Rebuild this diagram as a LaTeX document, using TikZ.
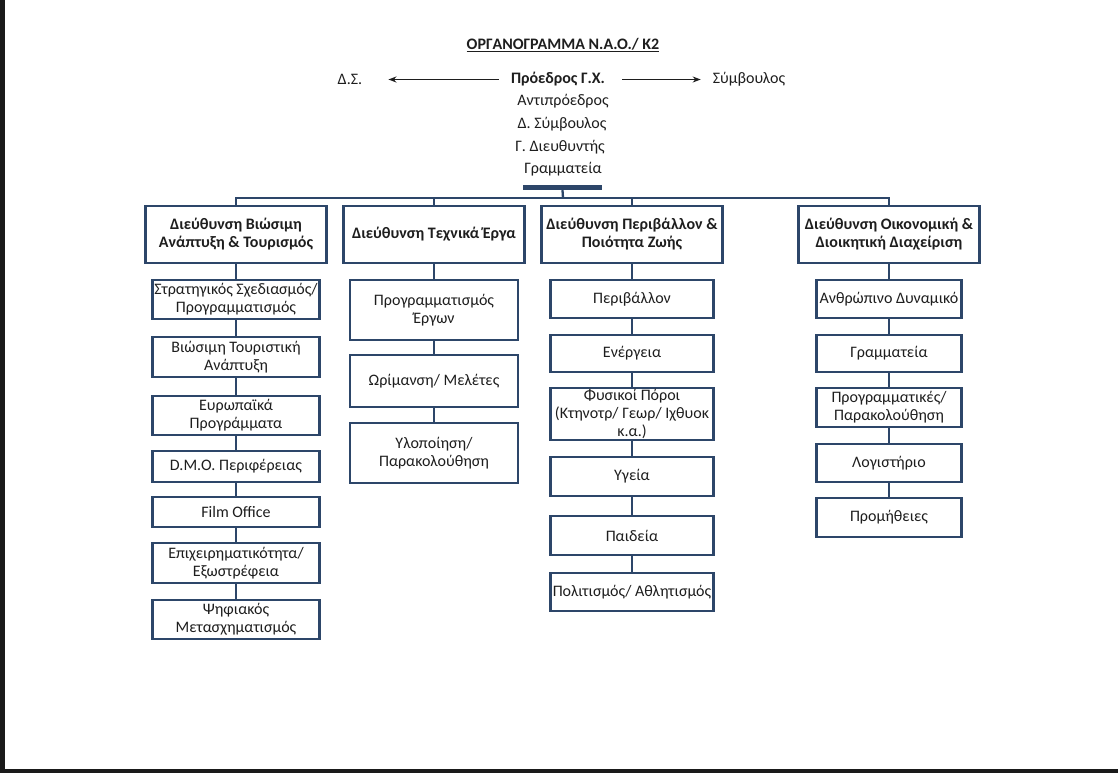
\documentclass[tikz,border=0pt]{standalone}
\usepackage{fontspec}
\setmainfont{Carlito}
\usetikzlibrary{arrows.meta}
\definecolor{navy}{HTML}{2D4669}
\definecolor{ink}{HTML}{1E1E1E}
\definecolor{frame}{HTML}{1A1A1A}
\begin{document}
\begin{tikzpicture}[x=1pt,y=-1pt,
  every node/.style={text=ink, font=\fontsize{16}{18}\selectfont},
  plain/.style={inner sep=0pt},
  box/.style={draw=navy, line width=2.3pt, fill=white, align=center, inner sep=0pt},
  head/.style={box, font=\bfseries\fontsize{16}{18}\selectfont, minimum width=181pt, minimum height=57pt},
  colA/.style={box, minimum width=167pt},
  colB/.style={box, minimum width=168pt},
  colC/.style={box, minimum width=163pt},
  colD/.style={box, minimum width=145pt},
  conn/.style={draw=navy, line width=2.3pt},
  arr/.style={-{Stealth[length=8pt,width=6pt]}, line width=1.4pt, draw=ink}
]
% page and frame
\fill[white] (0,0) rectangle (1118,773);
\fill[frame] (0,0) rectangle (5,773);
\fill[frame] (0,769) rectangle (1118,773);
\useasboundingbox (0,0) rectangle (1118,773);

% title
\node[plain, font=\bfseries\fontsize{16}{18}\selectfont] (title) at (563,45) {\underline{ΟΡΓΑΝΟΓΡΑΜΜΑ Ν.Α.Ο./ Κ2}};

% top management
\node[plain, font=\bfseries\fontsize{16}{18}\selectfont] (pres) at (558,79.5) {Πρόεδρος Γ.Χ.};
\node[plain] (ds) at (350,79.5) {Δ.Σ.};
\node[plain] (symb) at (749,79.5) {Σύμβουλος};
\draw[arr, shorten <=12pt, shorten >=26pt] (pres.west) -- (ds.east);
\draw[arr, shorten <=17pt, shorten >=12pt] (pres.east) -- (symb.west);
\node[plain] (vp) at (563,101.5) {Αντιπρόεδρος};
\node[plain] (dsym) at (562,124.5) {Δ. Σύμβουλος};
\node[plain] (gd) at (560,147.5) {Γ. Διευθυντής};
\node[plain] (gram) at (563,169.5) {Γραμματεία};

% bar
\node[fill=navy, minimum width=79pt, minimum height=5pt, inner sep=0pt] (bar) at (562.5,187.5) {};

% directorates
\node[head] (h1) at (236,234.5) {Διεύθυνση Βιώσιμη\\Ανάπτυξη \& Τουρισμός};
\node[head] (h2) at (434,234.5) {Διεύθυνση Τεχνικά Έργα};
\node[head] (h3) at (632,234.5) {Διεύθυνση Περιβάλλον \&\\Ποιότητα Ζωής};
\node[head] (h4) at (889,234.5) {Διεύθυνση Οικονομική \&\\Διοικητική Διαχείριση};

\coordinate (bus) at (563,198);
\draw[conn] (bar.south) -- (bus);
\draw[conn] (h1.north) |- (bus) -| (h4.north);
\draw[conn] (h2.north) -- (h2.north |- bus);
\draw[conn] (h3.north) -- (h3.north |- bus);

% column 1
\node[colA, minimum height=39pt] (a1) at (236,299.5) {Στρατηγικός Σχεδιασμός/\\Προγραμματισμός};
\node[colA, minimum height=40pt] (a2) at (236,357) {Βιώσιμη Τουριστική\\Ανάπτυξη};
\node[colA, minimum height=39pt] (a3) at (236,415.5) {Ευρωπαϊκά\\Προγράμματα};
\node[colA, minimum height=31pt] (a4) at (236,466.5) {D.M.O. Περιφέρειας};
\node[colA, minimum height=30pt] (a5) at (236,512) {Film Office};
\node[colA, minimum height=40pt] (a6) at (236,563) {Επιχειρηματικότητα/\\Εξωστρέφεια};
\node[colA, minimum height=39pt] (a7) at (236,619.5) {Ψηφιακός\\Μετασχηματισμός};
\draw[conn] (h1.south) -- (a1.north) (a1.south) -- (a2.north) (a2.south) -- (a3.north)
  (a3.south) -- (a4.north) (a4.south) -- (a5.north) (a5.south) -- (a6.north) (a6.south) -- (a7.north);

% column 2
\node[colB, minimum height=60pt] (b1) at (434,310) {Προγραμματισμός\\Έργων};
\node[colB, minimum height=52pt] (b2) at (434,381) {Ωρίμανση/ Μελέτες};
\node[colB, minimum height=60pt] (b3) at (434,453) {Υλοποίηση/\\Παρακολούθηση};
\draw[conn] (h2.south) -- (b1.north) (b1.south) -- (b2.north) (b2.south) -- (b3.north);

% column 3
\node[colC, minimum height=38pt] (c1) at (632,299) {Περιβάλλον};
\node[colC, minimum height=37pt] (c2) at (632,353.5) {Ενέργεια};
\node[colC, minimum height=52pt] (c3) at (632,414) {Φυσικοί Πόροι\\(Κτηνοτρ/ Γεωρ/ Ιχθυοκ\\κ.α.)};
\node[colC, minimum height=39pt] (c4) at (632,476.5) {Υγεία};
\node[colC, minimum height=39pt] (c5) at (632,535.5) {Παιδεία};
\node[colC, minimum height=38pt] (c6) at (632,592) {Πολιτισμός/ Αθλητισμός};
\draw[conn] (h3.south) -- (c1.north) (c1.south) -- (c2.north) (c2.south) -- (c3.north)
  (c3.south) -- (c4.north) (c4.south) -- (c5.north) (c5.south) -- (c6.north);

% column 4
\node[colD, minimum height=38pt] (e1) at (889,299) {Ανθρώπινο Δυναμικό};
\node[colD, minimum height=37pt] (e2) at (889,353.5) {Γραμματεία};
\node[colD, minimum height=39pt] (e3) at (889,407.5) {Προγραμματικές/\\Παρακολούθηση};
\node[colD, minimum height=38pt] (e4) at (889,463) {Λογιστήριο};
\node[colD, minimum height=39pt] (e5) at (889,517.5) {Προμήθειες};
\draw[conn] (h4.south) -- (e1.north) (e1.south) -- (e2.north) (e2.south) -- (e3.north)
  (e3.south) -- (e4.north) (e4.south) -- (e5.north);
\end{tikzpicture}
\end{document}
